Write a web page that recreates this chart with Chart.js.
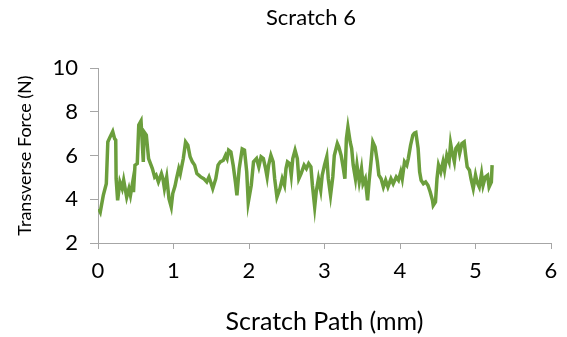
<!DOCTYPE html>
<html>
<head>
<meta charset="utf-8">
<script src="https://cdn.jsdelivr.net/npm/chart.js@4"></script>
<style>
  html, body { margin: 0; padding: 0; background: #fff; }
  #wrap { width: 567px; height: 337px; position: relative; }
</style>
</head>
<body>
<div id="wrap"><canvas id="scratchChart"></canvas></div>
<script>
const pathMm = [
  0.01, 0.03, 0.07, 0.11, 0.13, 0.16, 0.195, 0.22, 0.235, 0.24, 0.26, 0.29, 0.32, 0.34, 0.38, 0.41,
  0.43, 0.46, 0.47, 0.49, 0.52, 0.54, 0.57, 0.60, 0.61, 0.64, 0.67, 0.72, 0.75, 0.77, 0.80, 0.84,
  0.86, 0.88, 0.91, 0.94, 0.97, 0.99, 1.02, 1.04, 1.07, 1.09, 1.13, 1.16, 1.19, 1.22, 1.25, 1.28,
  1.31, 1.36, 1.40, 1.44, 1.47, 1.50, 1.52, 1.56, 1.59, 1.62, 1.66, 1.69, 1.71, 1.73, 1.76, 1.79,
  1.82, 1.84, 1.87, 1.91, 1.94, 1.97, 1.99, 2.03, 2.06, 2.10, 2.13, 2.16, 2.19, 2.22, 2.24, 2.26,
  2.29, 2.32, 2.34, 2.37, 2.41, 2.44, 2.47, 2.49, 2.51, 2.54, 2.56, 2.58, 2.61, 2.64, 2.66, 2.69,
  2.73, 2.76, 2.79, 2.82, 2.84, 2.87, 2.89, 2.92, 2.95, 2.97, 3.00, 3.03, 3.05, 3.08, 3.11, 3.13,
  3.17, 3.19, 3.22, 3.25, 3.27, 3.29, 3.31, 3.34, 3.36, 3.38, 3.41, 3.43, 3.46, 3.49, 3.51, 3.54,
  3.57, 3.59, 3.62, 3.64, 3.67, 3.70, 3.72, 3.75, 3.78, 3.81, 3.84, 3.88, 3.91, 3.95, 3.98, 4.01,
  4.03, 4.06, 4.09, 4.11, 4.14, 4.17, 4.19, 4.21, 4.24, 4.26, 4.28, 4.31, 4.34, 4.37, 4.40, 4.43,
  4.44, 4.47, 4.49, 4.51, 4.54, 4.57, 4.59, 4.62, 4.65, 4.67, 4.69, 4.72, 4.74, 4.77, 4.79, 4.82,
  4.85, 4.87, 4.89, 4.92, 4.94, 4.97, 5.00, 5.02, 5.05, 5.08, 5.10, 5.13, 5.16, 5.18, 5.21, 5.22
];
const forceN = [
  3.57, 3.42, 4.18, 4.71, 6.62, 6.85, 7.10, 6.77, 6.70, 4.94, 3.95, 4.79, 4.49, 4.87, 4.10, 4.49,
  4.18, 4.79, 4.33, 5.56, 5.63, 7.39, 7.58, 5.71, 7.08, 6.93, 5.86, 5.40, 5.02, 5.10, 4.79, 5.17,
  4.94, 4.49, 5.02, 4.03, 3.65, 4.26, 4.60, 4.94, 5.40, 5.17, 5.86, 6.62, 6.47, 5.94, 5.71, 5.56,
  5.17, 5.02, 4.94, 4.79, 5.02, 4.71, 4.49, 4.94, 5.56, 5.71, 5.78, 6.01, 5.86, 6.24, 6.16, 5.56,
  4.79, 4.18, 5.40, 6.30, 6.25, 5.25, 3.85, 4.64, 5.71, 5.86, 5.48, 5.94, 5.86, 5.40, 5.02, 5.56,
  6.01, 5.71, 4.94, 4.10, 4.49, 4.94, 4.64, 5.40, 5.71, 5.63, 5.10, 5.86, 6.24, 5.86, 4.94, 5.17,
  5.56, 5.40, 5.63, 5.48, 4.64, 3.65, 4.33, 4.94, 4.41, 5.10, 5.56, 5.94, 4.94, 4.18, 5.02, 6.00,
  6.55, 6.39, 6.01, 5.40, 4.94, 6.77, 7.30, 6.62, 6.32, 5.56, 4.94, 5.56, 4.79, 5.40, 4.71, 4.94,
  3.95, 4.79, 5.86, 6.62, 6.39, 5.71, 5.10, 4.94, 4.56, 4.87, 4.56, 4.94, 4.71, 5.02, 4.87, 5.25,
  4.94, 5.71, 5.56, 5.86, 6.47, 6.93, 7.02, 7.05, 6.32, 5.25, 4.87, 4.71, 4.79, 4.64, 4.33, 3.95,
  3.72, 3.88, 4.94, 5.56, 5.25, 5.71, 5.33, 6.01, 5.71, 6.55, 6.16, 5.71, 6.32, 6.47, 6.09, 6.55,
  6.62, 6.01, 5.48, 5.33, 4.94, 4.49, 5.10, 4.79, 4.56, 5.17, 4.64, 5.02, 5.10, 4.56, 4.79, 5.56
];
const xTicks = [0, 1, 2, 3, 4, 5, 6];
const yTicks = [2, 4, 6, 8, 10];
const chartTitle = "Scratch 6";

const axisGrey = "#a6a6a6";
const fontFamily = "Lato, 'Open Sans', sans-serif";

// titel digambar sendiri supaya posisinya sama dengan aslinya (agak ke kanan)
const titlePlugin = {
    id: "titleText",
    afterDraw(chart) {
        const c = chart.ctx;
        c.save();
        c.font = "22px " + fontFamily;
        c.fillStyle = "#000";
        c.textAlign = "center";
        c.textBaseline = "middle";
        c.fillText(chartTitle, 311, 18);
        c.restore();
    },
};

const ctx = document.getElementById("scratchChart").getContext("2d");

new Chart(ctx, {
    type: "line",
    data: {
        datasets: [
            {
                label: chartTitle,
                data: pathMm.map((x, i) => ({ x: x, y: forceN[i] })),
                borderColor: "#6b9e3c",
                borderWidth: 3.5,
                pointRadius: 0,
                fill: false,
                tension: 0,
            },
        ],
    },
    plugins: [titlePlugin],
    options: {
        responsive: true,
        maintainAspectRatio: false,
        animation: false,
        layout: { padding: { left: 0, right: 16, top: 68, bottom: 0 } },
        plugins: {
            legend: { display: false },
            tooltip: { enabled: false },
            title: { display: false },
        },
        scales: {
            x: {
                type: "linear",
                min: 0,
                max: 6,
                afterBuildTicks: (scale) => { scale.ticks = xTicks.map((v) => ({ value: v })); },
                afterFit: (scale) => { scale.height = 94; },
                border: { color: axisGrey, width: 1 },
                grid: { drawOnChartArea: false, color: axisGrey, tickLength: 6 },
                ticks: {
                    color: "#000",
                    padding: 9,
                    maxRotation: 0,
                    font: { family: fontFamily, size: 22 },
                },
                title: {
                    display: true,
                    text: "Scratch Path (mm)",
                    color: "#000",
                    font: { family: fontFamily, size: 25 },
                    padding: { top: 0, bottom: 0 },
                },
            },
            y: {
                min: 2,
                max: 10,
                afterBuildTicks: (scale) => { scale.ticks = yTicks.map((v) => ({ value: v })); },
                afterFit: (scale) => { scale.width = 98; },
                border: { color: axisGrey, width: 1 },
                grid: { drawOnChartArea: false, color: axisGrey, tickLength: 8 },
                ticks: {
                    color: "#000",
                    padding: 12,
                    font: { family: fontFamily, size: 22 },
                },
                title: {
                    display: true,
                    text: "Transverse Force (N)",
                    color: "#000",
                    font: { family: fontFamily, size: 18 },
                    padding: { top: 14, bottom: 0 },
                },
            },
        },
    },
});
</script>
</body>
</html>
